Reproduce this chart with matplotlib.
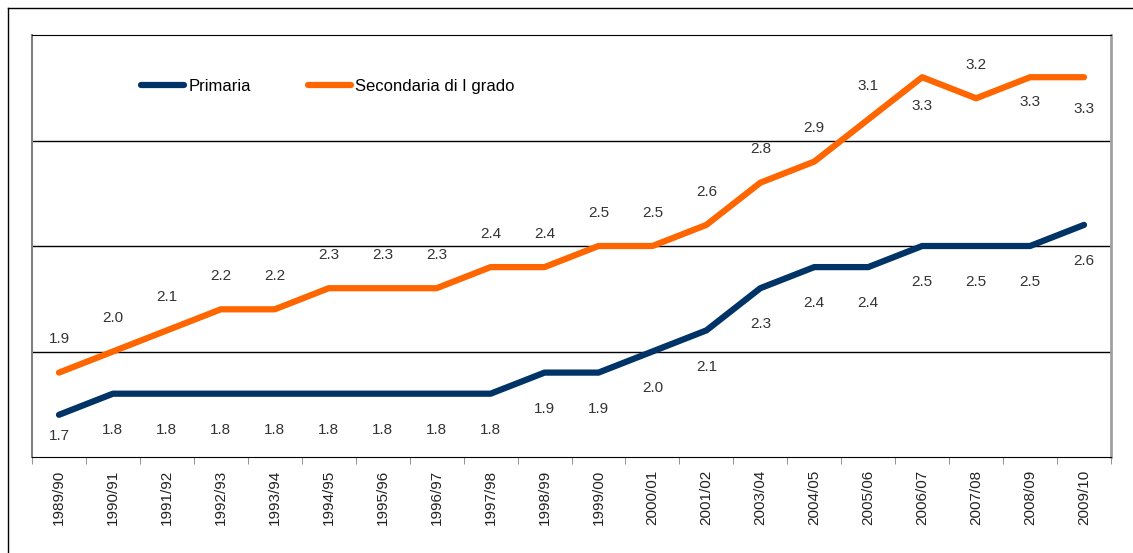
import matplotlib
matplotlib.use('Agg')
import matplotlib.pyplot as plt
import numpy as np
from matplotlib.lines import Line2D

plt.rcParams['font.family'] = ['Liberation Sans Narrow', 'Liberation Sans', 'DejaVu Sans']

years = ['1989/90', '1990/91', '1991/92', '1992/93', '1993/94', '1994/95',
         '1995/96', '1996/97', '1997/98', '1998/99', '1999/00', '2000/01',
         '2001/02', '2003/04', '2004/05', '2005/06', '2006/07', '2007/08',
         '2008/09', '2009/10']
primaria = [1.7, 1.8, 1.8, 1.8, 1.8, 1.8, 1.8, 1.8, 1.8, 1.9, 1.9, 2.0,
            2.1, 2.3, 2.4, 2.4, 2.5, 2.5, 2.5, 2.6]
secondaria = [1.9, 2.0, 2.1, 2.2, 2.2, 2.3, 2.3, 2.3, 2.4, 2.4, 2.5, 2.5,
              2.6, 2.8, 2.9, 3.1, 3.3, 3.2, 3.3, 3.3]

# label offsets in points (negative = below the line)
prim_off = [-15] + [-26] * 19
sec_off = [24] * 16 + [-21, 24, -18, -23]

NAVY = '#003366'
ORANGE = '#ff6600'

fig = plt.figure(figsize=(11.33, 5.53), dpi=100)
ax = fig.add_axes([32 / 1133, 96 / 553, 1079 / 1133, 422 / 553])

x = np.arange(len(years))
ax.plot(x, primaria, color=NAVY, lw=4.5, solid_capstyle='round',
        solid_joinstyle='round', label='Primaria', zorder=3)
ax.plot(x, secondaria, color=ORANGE, lw=4.5, solid_capstyle='round',
        solid_joinstyle='round', label='Secondaria di I grado', zorder=3)

for xi, v, o in zip(x, primaria, prim_off):
    ax.annotate(f'{v:.1f}', (xi, v), xytext=(0, o), textcoords='offset points',
                ha='center', va='center', fontsize=11, color='#333333')
for xi, v, o in zip(x, secondaria, sec_off):
    ax.annotate(f'{v:.1f}', (xi, v), xytext=(0, o), textcoords='offset points',
                ha='center', va='center', fontsize=11, color='#333333')

for g in [2.0, 2.5, 3.0]:
    ax.axhline(g, color='black', lw=1, zorder=1)

ax.set_xlim(-0.5, len(years) - 0.5)
ax.set_ylim(1.5, 3.5)
ax.set_yticks([])
ax.set_xticks(x)
ax.set_xticklabels(years, rotation=90, fontsize=11, color='#222222')
ax.set_xticks(np.arange(len(years) + 1) - 0.5, minor=True)
ax.tick_params(axis='x', which='major', length=0, pad=9)
ax.tick_params(axis='x', which='minor', length=5, color='#808080')

ax.spines['top'].set_color('black')
ax.spines['bottom'].set_color('black')
ax.spines['left'].set_color('#808080')
ax.spines['right'].set_color('#a0a0a0')
ax.spines['left'].set_linewidth(1.5)
ax.spines['right'].set_linewidth(2)

ax.legend(loc='center left', bbox_to_anchor=(0.101, 0.879), ncol=2,
          frameon=False, fontsize=12, handlelength=2.6, handletextpad=0.25,
          columnspacing=3.4, borderpad=0, borderaxespad=0)

fig.add_artist(Line2D([8 / 1133, 8 / 1133], [0, 1 - 8 / 553],
                      color='black', lw=1, transform=fig.transFigure))
fig.add_artist(Line2D([8 / 1133, 1], [1 - 8 / 553, 1 - 8 / 553],
                      color='black', lw=1, transform=fig.transFigure))

fig.savefig('out.png', dpi=100)
